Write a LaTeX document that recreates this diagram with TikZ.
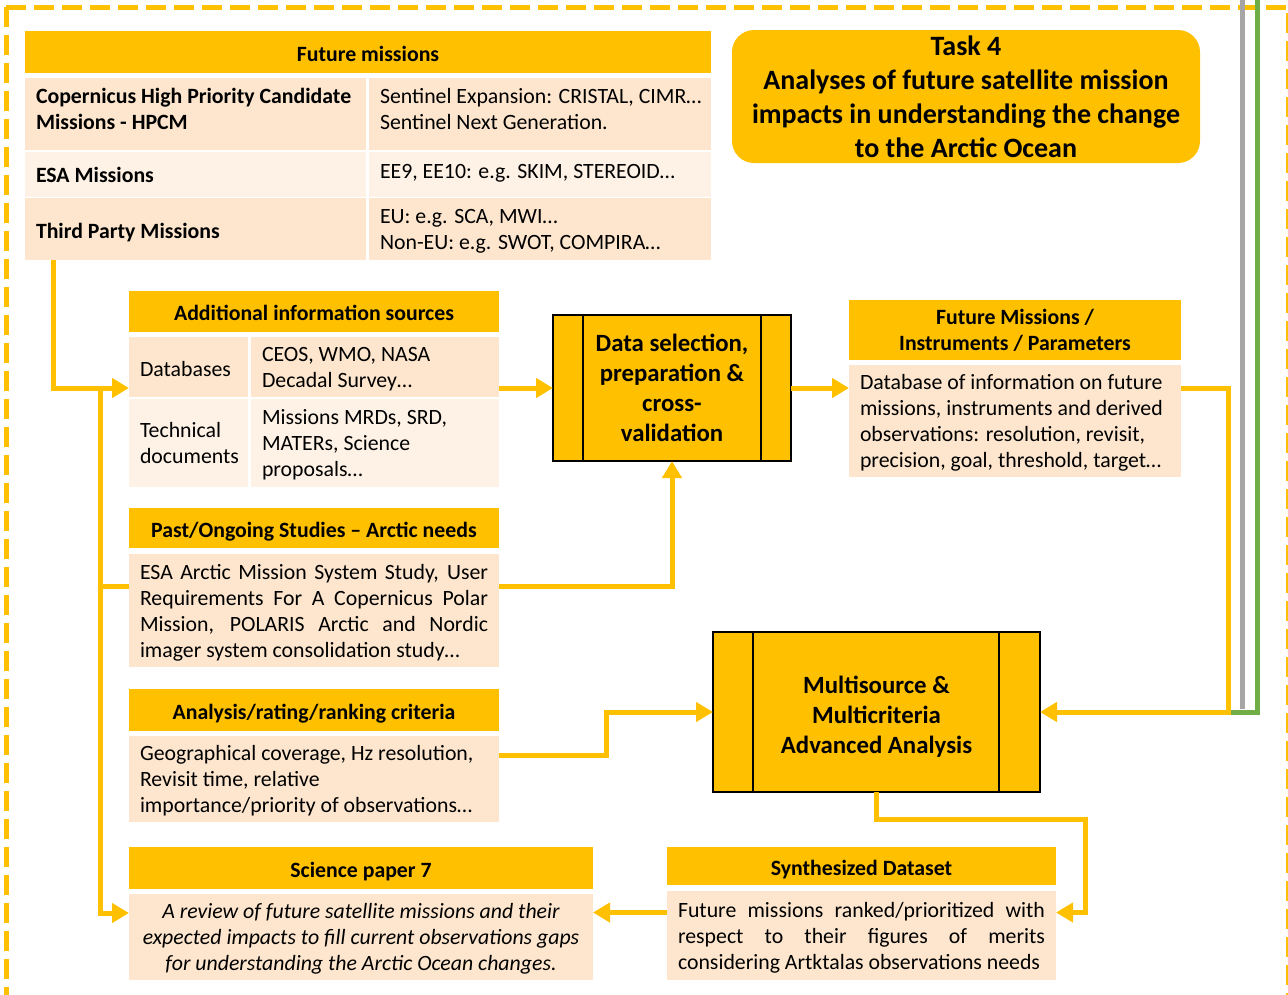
\documentclass[tikz,border=0pt]{standalone}
\usepackage{fontspec}
\setmainfont{Carlito}
\usetikzlibrary{arrows.meta}
\definecolor{amber}{HTML}{FFC000}
\definecolor{peachA}{HTML}{FDE6CD}
\definecolor{peachB}{HTML}{FEF2E6}
\definecolor{lgray}{HTML}{A5A5A5}
\definecolor{lgreen}{HTML}{70AD47}
\newcommand\bfnt{\fontsize{21.8}{26}\selectfont}
\newcommand\jline[2]{\makebox[#1][s]{#2}}
\begin{document}
\begin{tikzpicture}[x=1pt,y=-1pt,
  cbox/.style 2 args={rectangle, anchor=north west, inner sep=0pt, outer sep=0pt, minimum width=#1, minimum height=#2},
  hdr/.style={fill=amber, font=\bfnt\bfseries, align=center},
  hdrone/.style={hdr, text height=18pt, text depth=0pt},
  pa/.style={fill=peachA},
  pb/.style={fill=peachB},
  txt/.style={anchor=west, inner sep=0pt, outer sep=0pt, yshift=-4pt, align=left, font=\bfnt, execute at begin node=\strut, execute at end node=\strut},
  proc/.style={fill=amber, draw=black, line width=1.5pt, align=center},
  ln/.style={draw=amber, line width=5pt},
  arr/.style={ln, -{Triangle[length=17pt,width=19pt]}},
  bar/.style={draw=black, line width=1.5pt}
]
\useasboundingbox (0,0) rectangle (1288,994);
\begin{scope}
\clip (0,0) rectangle (1288,994);
\draw[amber, line width=5pt, dash pattern=on 20pt off 8pt] (6,7) -- (1288,7) -- (1288,1000);
\draw[amber, line width=5pt, dash pattern=on 20pt off 8pt] (6,7) -- (6,1000);
\end{scope}

% outside connectors (gray / green)
\coordinate (gtop) at (1242,0);
\coordinate (gbot) at (1242,709);
\coordinate (rtop) at (1257,0);
\coordinate (rbot) at (1257,712);
\coordinate (rend) at (1231,712);
\draw[lgray, line width=5pt] (gtop) -- (gbot);
\draw[lgreen, line width=5pt] (rtop) -- (rbot) -- (rend);

% Future missions table
\node[cbox={686}{42}, hdrone] (fmh) at (25,31) {Future missions};
\node[cbox={341}{72}, pa] (fm1l) at (25,78) {};
\node[cbox={342}{72}, pa] (fm1r) at (369,78) {};
\node[cbox={341}{45}, pb] (fm2l) at (25,152) {};
\node[cbox={342}{45}, pb] (fm2r) at (369,152) {};
\node[cbox={341}{62}, pa] (fm3l) at (25,198) {};
\node[cbox={342}{62}, pa] (fm3r) at (369,198) {};
\node[txt, font=\bfnt\bfseries] (fm1lt) at ([xshift=11pt,yshift=5pt]fm1l.west) {Copernicus High Priority Candidate\\Missions - HPCM};
\node[txt] (fm1rt) at ([xshift=11pt,yshift=5pt]fm1r.west) {Sentinel Expansion: CRISTAL, CIMR…\\Sentinel Next Generation.};
\node[txt, font=\bfnt\bfseries] (fm2lt) at ([xshift=11pt,yshift=1pt]fm2l.west) {ESA Missions};
\node[txt] (fm2rt) at ([xshift=11pt,yshift=5pt]fm2r.west) {EE9, EE10: e.g. SKIM, STEREOID…};
\node[txt, font=\bfnt\bfseries] (fm3lt) at ([xshift=11pt]fm3l.west) {Third Party Missions};
\node[txt] (fm3rt) at ([xshift=11pt]fm3r.west) {EU: e.g. SCA, MWI…\\Non-EU: e.g. SWOT, COMPIRA…};

% Task box
\node[cbox={468}{133}, fill=amber, rounded corners=22pt, font=\fontsize{28}{34}\selectfont\bfseries, align=center] (task) at (732,30) {Task 4\\Analyses of future satellite mission\\impacts in understanding the change\\to the Arctic Ocean};

% Additional information sources
\node[cbox={370}{41}, hdrone] (aih) at (129,291) {Additional information sources};
\node[cbox={119}{60}, pa] (ai1l) at (129,337) {};
\node[cbox={248}{60}, pa] (ai1r) at (251,337) {};
\node[cbox={119}{88}, pb] (ai2l) at (129,399) {};
\node[cbox={248}{88}, pb] (ai2r) at (251,399) {};
\node[txt] (ai1lt) at ([xshift=11pt]ai1l.west) {Databases};
\node[txt] (ai1rt) at ([xshift=11pt]ai1r.west) {CEOS, WMO, NASA\\Decadal Survey…};
\node[txt] (ai2lt) at ([xshift=11pt]ai2l.west) {Technical\\documents};
\node[txt] (ai2rt) at ([xshift=11pt]ai2r.west) {Missions MRDs, SRD,\\MATERs, Science\\proposals…};

% Past / Ongoing studies
\node[cbox={370}{40}, hdrone] (pah) at (129,508) {Past/Ongoing Studies -- Arctic needs};
\node[cbox={370}{113}, pa] (pab) at (129,554) {};
\node[txt] (pabt) at ([xshift=11pt]pab.west) {\jline{348pt}{ESA Arctic Mission System Study, User}\\\jline{348pt}{Requirements For A Copernicus Polar}\\\jline{348pt}{Mission, POLARIS Arctic and Nordic}\\imager system consolidation study…};

% Analysis criteria
\node[cbox={370}{42}, hdrone] (ach) at (129,689) {Analysis/rating/ranking criteria};
\node[cbox={370}{86}, pa] (acb) at (129,736) {};
\node[txt] (acbt) at ([xshift=11pt]acb.west) {Geographical coverage, Hz resolution,\\Revisit time, relative\\importance/priority of observations…};

% Science paper 7
\node[cbox={464}{42}, hdrone] (sph) at (129,847) {Science paper 7};
\node[cbox={464}{86}, pa] (spb) at (129,894) {};
\node[txt, anchor=center, align=center, font=\bfnt\itshape] (spbt) at (spb.center) {A review of future satellite missions and their\\expected impacts to fill current observations gaps\\for understanding the Arctic Ocean changes.};

% Data selection process
\node[cbox={238}{146}, proc, font=\fontsize{24.8}{30}\selectfont\bfseries] (ds) at (553,315) {Data selection,\\preparation \&\\cross-\\validation};
\draw[bar] ([xshift=30pt]ds.north west) -- ([xshift=30pt]ds.south west);
\draw[bar] ([xshift=-30pt]ds.north east) -- ([xshift=-30pt]ds.south east);

% Future Missions / Instruments / Parameters
\node[cbox={332}{60}, hdr] (fmph) at (849,300) {Future Missions /\\Instruments / Parameters};
\node[cbox={332}{112}, pa] (fmpb) at (849,365) {};
\node[txt] (fmpbt) at ([xshift=11pt]fmpb.west) {Database of information on future\\missions, instruments and derived\\observations: resolution, revisit,\\precision, goal, threshold, target…};

% Multisource process
\node[cbox={327}{160}, proc, font=\fontsize{24.8}{30}\selectfont\bfseries] (ms) at (713,632) {\rule{0pt}{27pt}Multisource \&\\Multicriteria\\Advanced Analysis};
\draw[bar] ([xshift=40pt]ms.north west) -- ([xshift=40pt]ms.south west);
\draw[bar] ([xshift=-41pt]ms.north east) -- ([xshift=-41pt]ms.south east);

% Synthesized dataset
\node[cbox={389}{38}, hdrone] (sdh) at (667,847) {Synthesized Dataset};
\node[cbox={389}{89}, pa] (sdb) at (667,891) {};
\node[txt] (sdbt) at ([xshift=11pt]sdb.west) {\jline{367pt}{Future missions ranked/prioritized with}\\\jline{367pt}{respect to their figures of merits}\\\jline{362pt}{considering Artktalas observations needs}};

% connectors
\coordinate (bus) at (100,388);
\coordinate (rb) at (1228,388);
\coordinate (ab) at (606,755);
\coordinate (mb) at (1085,819);
\draw[arr] ([xshift=28pt]fm3l.south west) |- (ai1l.west |- ds.west);
\draw[ln] (bus) |- ([yshift=24pt]pab.west);
\draw[arr] (bus) |- ([yshift=24pt]spb.west);
\draw[arr] (ai1r.east |- ds.west) -- (ds.west);
\draw[arr] ([yshift=24pt]pab.east) -| (ds.south);
\draw[arr] (ds.east) -- (fmpb.west |- ds.east);
\draw[arr] (fmpb.east |- rb) -- (rb) |- (ms.east);
\draw[arr] ([yshift=24pt]acb.east) -- (ab) |- (ms.west);
\draw[arr] (ms.south) |- (mb) |- ([yshift=23pt]sdb.east);
\draw[arr] ([yshift=23pt]sdb.west) -- ([yshift=23pt]sdb.west -| spb.east);
\end{tikzpicture}
\end{document}
